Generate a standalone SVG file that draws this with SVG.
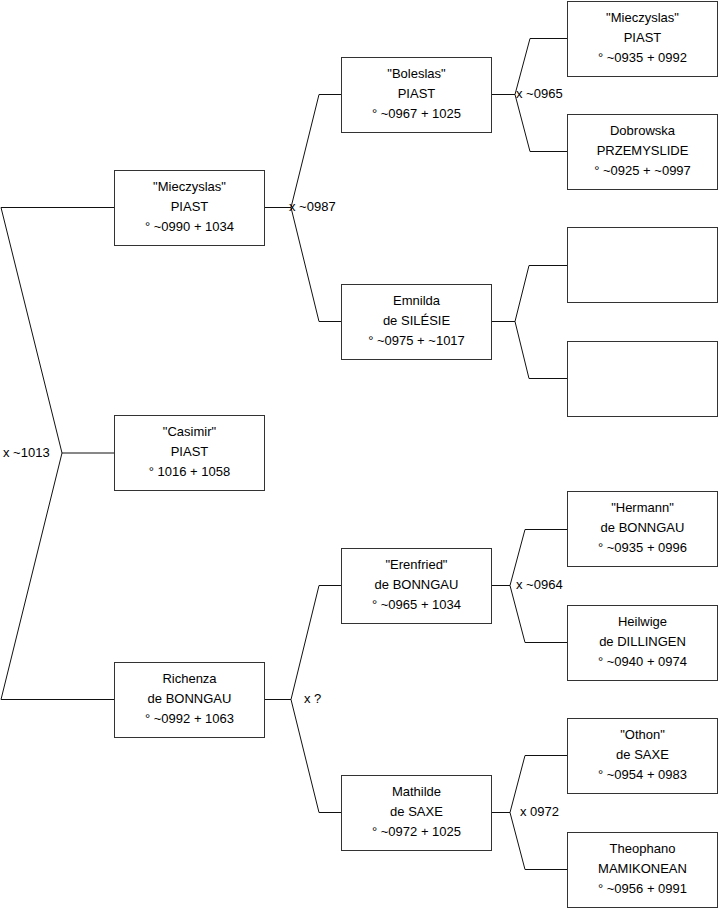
<svg xmlns="http://www.w3.org/2000/svg" width="719" height="908" viewBox="0 0 719 908">
<style>
.box{fill:#fff;stroke:#333;stroke-width:1}
.ln{fill:none;stroke:#111;stroke-width:1}
text{font-family:"Liberation Sans",Arial,sans-serif;font-size:13px;fill:#000}
.c{text-anchor:middle}
</style>
<rect width="719" height="908" fill="#fff"/>
<g id="connectors">
<path class="ln" d="M1,207.5 H114 M1,207.5 L62,453 L1,699.5 H114 M62,453 H114"/>
<path class="ln" d="M265,207.5 H291 M319,94.5 L291,207.5 L319,321.5 M319,94.5 H341 M319,321.5 H341"/>
<path class="ln" d="M265,699.5 H291 M319,585.5 L291,699.5 L319,812.5 M319,585.5 H341 M319,812.5 H341"/>
<path class="ln" d="M492,94.5 H515 M530,38.5 L515,94.5 L530,151.5 M530,38.5 H567 M530,151.5 H567"/>
<path class="ln" d="M492,321.5 H515 M529,265.5 L515,321.5 L529,378.5 M529,265.5 H567 M529,378.5 H567"/>
<path class="ln" d="M492,585.5 H510 M525,529.5 L510,585.5 L525,642.5 M525,529.5 H567 M525,642.5 H567"/>
<path class="ln" d="M492,812.5 H510 M525,755.5 L510,812.5 L525,869.5 M525,755.5 H567 M525,869.5 H567"/>
<text x="3" y="457">x ~1013</text>
<text x="289" y="211">x ~0987</text>
<text x="304" y="703">x ?</text>
<text x="516" y="98">x ~0965</text>
<text x="516" y="589">x ~0964</text>
<text x="520" y="816">x 0972</text>
</g>
<g id="n-mieczyslas2"><rect class="box" x="114.5" y="170.5" width="150" height="75"/>
<text class="c" x="189.5" y="191">"Mieczyslas"</text><text class="c" x="189.5" y="211">PIAST</text><text class="c" x="189.5" y="231">° ~0990 + 1034</text></g>
<g id="n-casimir"><rect class="box" x="114.5" y="415.5" width="150" height="75"/>
<text class="c" x="189.5" y="436">"Casimir"</text><text class="c" x="189.5" y="456">PIAST</text><text class="c" x="189.5" y="476">° 1016 + 1058</text></g>
<g id="n-richenza"><rect class="box" x="114.5" y="662.5" width="150" height="75"/>
<text class="c" x="189.5" y="683">Richenza</text><text class="c" x="189.5" y="703">de BONNGAU</text><text class="c" x="189.5" y="723">° ~0992 + 1063</text></g>
<g id="n-boleslas"><rect class="box" x="341.5" y="57.5" width="150" height="75"/>
<text class="c" x="416.5" y="78">"Boleslas"</text><text class="c" x="416.5" y="98">PIAST</text><text class="c" x="416.5" y="118">° ~0967 + 1025</text></g>
<g id="n-emnilda"><rect class="box" x="341.5" y="284.5" width="150" height="75"/>
<text class="c" x="416.5" y="305">Emnilda</text><text class="c" x="416.5" y="325">de SILÉSIE</text><text class="c" x="416.5" y="345">° ~0975 + ~1017</text></g>
<g id="n-erenfried"><rect class="box" x="341.5" y="548.5" width="150" height="75"/>
<text class="c" x="416.5" y="569">"Erenfried"</text><text class="c" x="416.5" y="589">de BONNGAU</text><text class="c" x="416.5" y="609">° ~0965 + 1034</text></g>
<g id="n-mathilde"><rect class="box" x="341.5" y="775.5" width="150" height="75"/>
<text class="c" x="416.5" y="796">Mathilde</text><text class="c" x="416.5" y="816">de SAXE</text><text class="c" x="416.5" y="836">° ~0972 + 1025</text></g>
<g id="n-mieczyslas1"><rect class="box" x="567.5" y="1.5" width="150" height="75"/>
<text class="c" x="642.5" y="22">"Mieczyslas"</text><text class="c" x="642.5" y="42">PIAST</text><text class="c" x="642.5" y="62">° ~0935 + 0992</text></g>
<g id="n-dobrowska"><rect class="box" x="567.5" y="114.5" width="150" height="75"/>
<text class="c" x="642.5" y="135">Dobrowska</text><text class="c" x="642.5" y="155">PRZEMYSLIDE</text><text class="c" x="642.5" y="175">° ~0925 + ~0997</text></g>
<g id="n-empty1"><rect class="box" x="567.5" y="227.5" width="150" height="75"/></g>
<g id="n-empty2"><rect class="box" x="567.5" y="341.5" width="150" height="75"/></g>
<g id="n-hermann"><rect class="box" x="567.5" y="491.5" width="150" height="75"/>
<text class="c" x="642.5" y="512">"Hermann"</text><text class="c" x="642.5" y="532">de BONNGAU</text><text class="c" x="642.5" y="552">° ~0935 + 0996</text></g>
<g id="n-heilwige"><rect class="box" x="567.5" y="605.5" width="150" height="75"/>
<text class="c" x="642.5" y="626">Heilwige</text><text class="c" x="642.5" y="646">de DILLINGEN</text><text class="c" x="642.5" y="666">° ~0940 + 0974</text></g>
<g id="n-othon"><rect class="box" x="567.5" y="718.5" width="150" height="75"/>
<text class="c" x="642.5" y="739">"Othon"</text><text class="c" x="642.5" y="759">de SAXE</text><text class="c" x="642.5" y="779">° ~0954 + 0983</text></g>
<g id="n-theophano"><rect class="box" x="567.5" y="832.5" width="150" height="75"/>
<text class="c" x="642.5" y="853">Theophano</text><text class="c" x="642.5" y="873">MAMIKONEAN</text><text class="c" x="642.5" y="893">° ~0956 + 0991</text></g>
</svg>
